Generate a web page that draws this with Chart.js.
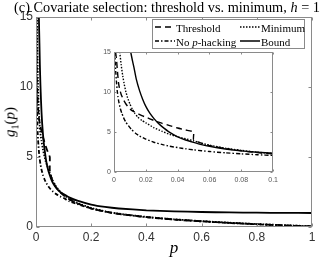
<!DOCTYPE html>
<html>
<head>
<meta charset="utf-8">
<script src="https://cdn.jsdelivr.net/npm/chart.js@4.4.1/dist/chart.umd.min.js"></script>
<style>
  body { margin: 0; width: 324px; height: 261px; background: #fff; position: relative; overflow: hidden; }
  canvas { display: block; }
  .abs { position: absolute; }
  #title { left: 0; top: 0; width: 334px; text-align: center; white-space: nowrap;
    font: 14.3px "Liberation Serif", serif; line-height: 14px; color: #000; }
  #main-wrap { left: 0; top: 0; width: 324px; height: 261px; }
  #inset-wrap { left: 96px; top: 44px; width: 186px; height: 146px; background: #fff; }
  #legend { left: 152px; top: 19px; width: 153px; height: 30px; box-sizing: border-box;
    border: 1px solid #8a8a8a; background: #fff; z-index: 3;
    font: 11px "Liberation Serif", serif; color: #000; }
  #legend .item { position: absolute; white-space: nowrap; line-height: 12px; }
  #legend svg { position: absolute; }
  #ylabel { left: 11px; top: 122px; transform: translate(-50%, -50%) rotate(-90deg);
    font: 15px "Liberation Serif", serif; white-space: nowrap; }
  #xlabel { left: 174px; top: 248px; transform: translate(-50%, -50%);
    font: italic 17px "Liberation Serif", serif; }
</style>
</head>
<body>
<div id="main-wrap" class="abs"><canvas id="main" width="324" height="261"></canvas></div>
<div id="inset-wrap" class="abs"><canvas id="inset" width="186" height="146"></canvas></div>
<div id="title" class="abs">(c) Covariate selection: threshold vs. minimum, <i>h</i> = 1</div>
<div id="legend" class="abs">
  <svg style="left:2px;top:2px" width="20" height="10"><line x1="0" y1="5" x2="20" y2="5" stroke="#000" stroke-width="1.5" stroke-dasharray="6 4"/></svg>
  <span class="item" style="left:23px;top:2px">Threshold</span>
  <svg style="left:87px;top:2px" width="20" height="10"><line x1="0" y1="5" x2="20" y2="5" stroke="#000" stroke-width="1.5" stroke-dasharray="1.5 1.5"/></svg>
  <span class="item" style="left:108px;top:2px">Minimum</span>
  <svg style="left:2px;top:16px" width="20" height="10"><line x1="0" y1="5" x2="20" y2="5" stroke="#000" stroke-width="1.5" stroke-dasharray="4 2 1.5 2"/></svg>
  <span class="item" style="left:23px;top:16px">No <i>p</i>-hacking</span>
  <svg style="left:87px;top:16px" width="20" height="10"><line x1="0" y1="5" x2="20" y2="5" stroke="#000" stroke-width="1.5"/></svg>
  <span class="item" style="left:108px;top:16px">Bound</span>
</div>
<div id="ylabel" class="abs"><i>g</i><sub style="font-size:10px">1</sub>(<i>p</i>)</div>
<div id="xlabel" class="abs">p</div>

<script>
// values
const thresholdP = [0.001, 0.0016, 0.002, 0.0028, 0.0035, 0.0045, 0.006, 0.0075, 0.009, 0.0105, 0.0125, 0.015, 0.0175, 0.02, 0.025, 0.03, 0.035, 0.04, 0.045, 0.05, 0.05, 0.055, 0.06, 0.07, 0.08, 0.09, 0.1, 0.12, 0.15, 0.2, 0.25, 0.3, 0.4, 0.5, 0.6, 0.7, 0.8, 0.9, 1];
const thresholdG = [15, 14, 13.0, 11.2, 10.4, 9.7, 9.0, 8.5, 8.1, 7.8, 7.55, 7.3, 7.05, 6.85, 6.45, 6.1, 5.8, 5.5, 5.25, 5.0, 4.05, 3.6, 3.3, 2.92, 2.65, 2.43, 2.26, 1.98, 1.68, 1.33, 1.1, 0.93, 0.71, 0.54, 0.41, 0.3, 0.2, 0.12, 0.04];

const minimumP = [0.0036, 0.0045, 0.0055, 0.0065, 0.0075, 0.0085, 0.01, 0.0115, 0.013, 0.015, 0.0175, 0.02, 0.025, 0.03, 0.035, 0.04, 0.045, 0.05, 0.055, 0.06, 0.07, 0.08, 0.09, 0.1, 0.12, 0.15, 0.2, 0.25, 0.3, 0.4, 0.5, 0.6, 0.7, 0.8, 0.9, 1];
const minimumG = [15, 13.4, 12.0, 10.9, 10.0, 9.3, 8.5, 7.85, 7.35, 6.85, 6.45, 6.15, 5.55, 5.1, 4.7, 4.4, 4.15, 3.9, 3.6, 3.35, 2.98, 2.7, 2.48, 2.3, 2.02, 1.72, 1.36, 1.12, 0.95, 0.72, 0.55, 0.42, 0.31, 0.21, 0.13, 0.05];

const noHackP = [0.0005, 0.0008, 0.0012, 0.0016, 0.002, 0.0025, 0.003, 0.004, 0.005, 0.006, 0.0075, 0.009, 0.011, 0.0135, 0.016, 0.02, 0.025, 0.03, 0.035, 0.04, 0.045, 0.05, 0.06, 0.07, 0.08, 0.09, 0.1, 0.12, 0.15, 0.2, 0.25, 0.3, 0.4, 0.5, 0.6, 0.7, 0.8, 0.9, 1];
const noHackG = [15, 13.6, 12.2, 11.1, 10.2, 9.4, 8.8, 7.9, 7.3, 6.8, 6.2, 5.8, 5.3, 4.85, 4.5, 4.1, 3.72, 3.45, 3.22, 3.05, 2.9, 2.77, 2.56, 2.4, 2.27, 2.16, 2.07, 1.85, 1.63, 1.32, 1.1, 0.93, 0.7, 0.53, 0.4, 0.29, 0.19, 0.11, 0.04];

const boundP = [0.0105, 0.0115, 0.0125, 0.014, 0.016, 0.018, 0.02, 0.0225, 0.025, 0.0275, 0.03, 0.035, 0.04, 0.045, 0.05, 0.055, 0.06, 0.07, 0.08, 0.09, 0.1, 0.12, 0.15, 0.2, 0.25, 0.3, 0.4, 0.5, 0.6, 0.7, 0.8, 0.9, 1];
const boundG = [15, 14.0, 13.1, 11.6, 10.2, 9.1, 8.2, 7.35, 6.7, 6.15, 5.7, 4.95, 4.4, 4.0, 3.7, 3.42, 3.2, 2.88, 2.64, 2.47, 2.35, 2.12, 1.88, 1.6, 1.43, 1.32, 1.19, 1.12, 1.07, 1.04, 1.02, 1.01, 1.0];

const mainXTicks = [0, 0.2, 0.4, 0.6, 0.8, 1];
const mainXLabels = ["0", "0.2", "0.4", "0.6", "0.8", "1"];
const mainYTicks = [0, 5, 10, 15];
const mainYLabels = ["0", "5", "10", "15"];
const insetXTicks = [0, 0.02, 0.04, 0.06, 0.08, 0.1];
const insetXLabels = ["0", "0.02", "0.04", "0.06", "0.08", "0.1"];
const insetYTicks = [0, 5, 10, 15];
const insetYLabels = ["0", "5", "10", "15"];

const axisColor = "#8a8a8a";

function toPoints(xs, ys) {
  return xs.map((x, i) => ({ x: x, y: ys[i] }));
}

function makeDatasets(width) {
  const base = { borderColor: "#000", borderWidth: width, pointRadius: 0, tension: 0.15, fill: false };
  return [
    { ...base, label: "Threshold", data: toPoints(thresholdP, thresholdG), borderDash: [6, 4] },
    { ...base, label: "Minimum", data: toPoints(minimumP, minimumG), borderDash: [1.5, 1.5] },
    { ...base, label: "No p-hacking", data: toPoints(noHackP, noHackG), borderDash: [4, 2, 1.5, 2] },
    { ...base, label: "Bound", data: toPoints(boundP, boundG) },
  ];
}

// matlab-like box with inward tick marks
const boxTicks = {
  id: "boxTicks",
  afterDraw(chart, args, opts) {
    const { ctx, chartArea: a, scales } = chart;
    const L = Math.round(a.left) + 0.5;
    const R = Math.round(a.right) - 0.5;
    const T = Math.round(a.top) + 0.5;
    const B = Math.round(a.bottom) - 0.5;
    ctx.save();
    ctx.strokeStyle = axisColor;
    ctx.lineWidth = 1;
    ctx.strokeRect(L, T, R - L, B - T);
    ctx.beginPath();
    scales.x.ticks.forEach((t) => {
      const x = Math.round(scales.x.getPixelForValue(t.value)) + 0.5;
      ctx.moveTo(x, B); ctx.lineTo(x, B - opts.len);
      ctx.moveTo(x, T); ctx.lineTo(x, T + opts.len);
    });
    scales.y.ticks.forEach((t) => {
      const y = Math.round(scales.y.getPixelForValue(t.value)) + 0.5;
      ctx.moveTo(L, y); ctx.lineTo(L + opts.len, y);
      ctx.moveTo(R, y); ctx.lineTo(R - opts.len, y);
    });
    ctx.stroke();
    ctx.restore();
  },
};

function makeChart(canvas, cfg) {
  return new Chart(canvas, {
    type: "line",
    data: { datasets: makeDatasets(cfg.lineWidth) },
    options: {
      responsive: false,
      animation: false,
      events: [],
      layout: { padding: cfg.padding },
      plugins: {
        legend: { display: false },
        tooltip: { enabled: false },
        boxTicks: { len: cfg.tickLen },
      },
      scales: {
        x: {
          type: "linear",
          min: cfg.xMin,
          max: cfg.xMax,
          afterBuildTicks: (scale) => { scale.ticks = cfg.xTicks.map((v) => ({ value: v })); },
          afterFit: (scale) => { scale.height = cfg.xHeight; },
          grid: { display: true, drawOnChartArea: false, drawTicks: false },
          border: { display: false },
          ticks: {
            autoSkip: false,
            maxRotation: 0,
            padding: cfg.xPad,
            color: cfg.tickColor,
            font: { family: "Liberation Sans", size: cfg.fontSize },
            callback: (value, index) => cfg.xLabels[index],
          },
        },
        y: {
          type: "linear",
          min: 0,
          max: 15,
          afterBuildTicks: (scale) => { scale.ticks = cfg.yTicks.map((v) => ({ value: v })); },
          afterFit: (scale) => { scale.width = cfg.yWidth; },
          grid: { display: true, drawOnChartArea: false, drawTicks: false },
          border: { display: false },
          ticks: {
            autoSkip: false,
            padding: cfg.yPad,
            color: cfg.tickColor,
            font: { family: "Liberation Sans", size: cfg.fontSize },
            callback: (value, index) => cfg.yLabels[index],
          },
        },
      },
    },
    plugins: [boxTicks],
  });
}

makeChart(document.querySelector("#main"), {
  lineWidth: 1.8,
  padding: { top: 17, right: 12, left: 0, bottom: 0 },
  tickLen: 3,
  xMin: 0, xMax: 1,
  xTicks: mainXTicks, xLabels: mainXLabels,
  yTicks: mainYTicks, yLabels: mainYLabels,
  xHeight: 34, yWidth: 36,
  xPad: 3, yPad: 3,
  fontSize: 12,
  tickColor: "#333",
});

makeChart(document.querySelector("#inset"), {
  lineWidth: 1.4,
  padding: { top: 8, right: 8, left: 0, bottom: 0 },
  tickLen: 2,
  xMin: 0, xMax: 0.1,
  xTicks: insetXTicks, xLabels: insetXLabels,
  yTicks: insetYTicks, yLabels: insetYLabels,
  xHeight: 18, yWidth: 18,
  xPad: 4, yPad: 3,
  fontSize: 7,
  tickColor: "#555",
});
</script>
</body>
</html>
